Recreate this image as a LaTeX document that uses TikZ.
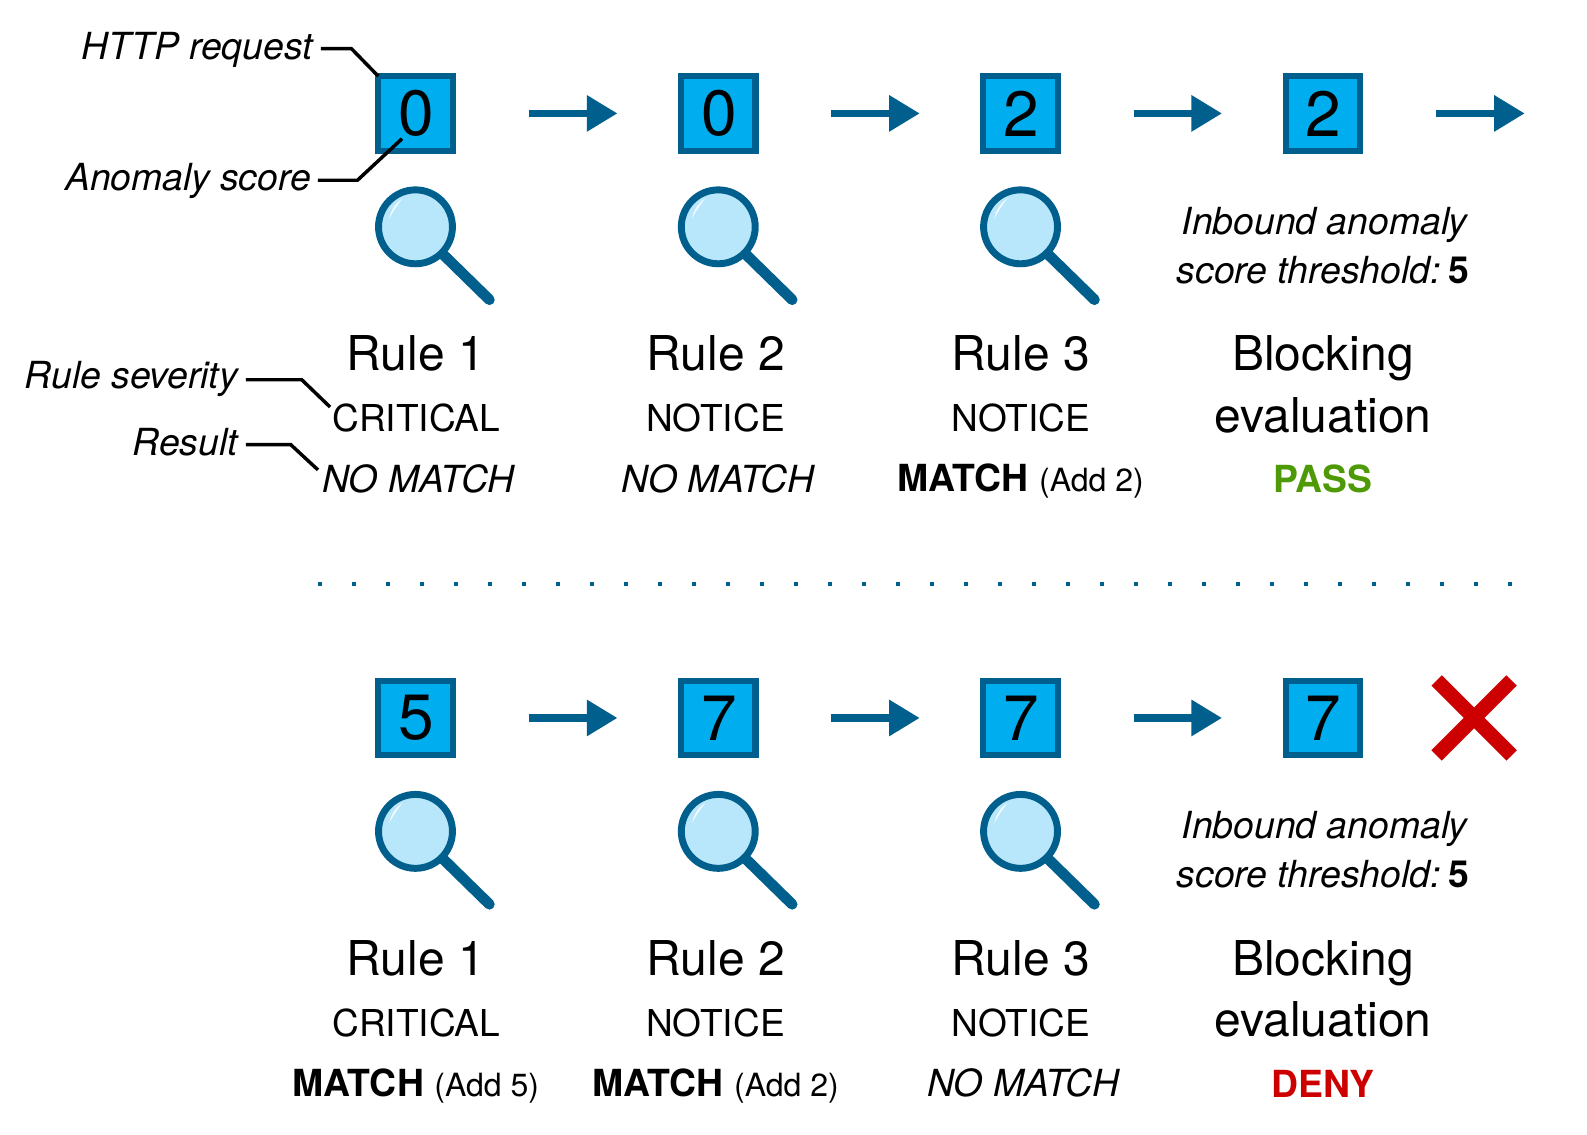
\documentclass[tikz,border=0pt]{standalone}
\usepackage{fontspec}
\setmainfont{TeX Gyre Heros}
\usetikzlibrary{arrows.meta}
\definecolor{dkblue}{HTML}{005F8C}
\definecolor{fillblue}{HTML}{00AEEF}
\definecolor{lens}{HTML}{B8E6FA}
\definecolor{passgreen}{HTML}{4E9A06}
\definecolor{denyred}{HTML}{CC0000}
\newcommand{\addfont}{\fontsize{24}{24}\selectfont}
\newcommand{\dg}[1]{\hspace*{1.2pt}#1}
\tikzset{
  x=0.7595pt,y=-0.7595pt,
  scorebox/.style={draw=dkblue,line width=4.6pt,fill=fillblue,minimum size=55.8pt,inner sep=0pt,outer sep=0pt,font=\fontsize{48}{48}\selectfont,text=black},
  flow/.style={draw=dkblue,line width=5.5pt,-{Triangle[length=23pt,width=26pt]},shorten <=57pt,shorten >=47.7pt},
  leader/.style={draw=black,line width=2.6pt},
  txt/.style={anchor=base,inner sep=0pt,outer sep=0pt,align=center},
  title/.style={txt,font=\fontsize{36}{36}\selectfont},
  sev/.style={txt,font=\fontsize{27.8}{28}\selectfont},
  res/.style={txt,font=\fontsize{28}{28}\selectfont},
  note/.style={txt,font=\fontsize{28}{28}\selectfont\itshape},
  tag/.style={txt,anchor=base east,font=\fontsize{28}{28}\selectfont\itshape},
}
\newcommand{\glass}[2]{%
  \begin{scope}[shift={(#1,#2)}]
    \draw[dkblue,line width=8pt,line cap=round] (27,27) -- (73,72);
    \draw[dkblue,line width=5.2pt,fill=lens] (0,0) circle[radius=36.5];
    \fill[white!85!lens] (-26,-8) .. controls (-24,-17) and (-20,-23) .. (-13,-28) .. controls (-19,-20) and (-23,-14) .. (-26,-8) -- cycle;
  \end{scope}}
\newcommand{\thr}{score threshold:\hspace{6pt}\textup{\textbf{5}}}
\begin{document}
\begin{tikzpicture}
\useasboundingbox (0,0) rectangle (1567.2,1119.9);
% top row
\node[scorebox] (a1) at (410.3,112) {\dg{0}};
\node[scorebox] (a2) at (709.3,112) {\dg{0}};
\node[scorebox] (a3) at (1007.8,112) {\dg{2}};
\node[scorebox] (a4) at (1306.3,112) {\dg{2}};
\coordinate (a5) at (1551,112);
\draw[flow] (a1) -- (a2);
\draw[flow] (a2) -- (a3);
\draw[flow] (a3) -- (a4);
\draw[flow,shorten >=34.4pt] (a4) -- (a5);
\glass{410.3}{224}\glass{709.3}{224}\glass{1007.8}{224}
\node[note] (a4n1) at (1308,231.5) {Inbound anomaly};
\node[note] (a4n2) at (1306.7,279.5) {\thr};
\node[title] (at1) at (410.5,366) {Rule 1};
\node[title] (at2) at (706.8,366) {Rule 2};
\node[title] (at3) at (1008,366) {Rule 3};
\node[title] (at4) at (1306.5,366) {Blocking};
\node[title] (at4b) at (1306.5,426.7) {evaluation};
\node[sev] (as1) at (411,426.5) {CRITICAL};
\node[sev] (as2) at (706.5,426.5) {NOTICE};
\node[sev] (as3) at (1008,426.5) {NOTICE};
\node[res] (ar1) at (413,486) {\itshape NO MATCH};
\node[res] (ar2) at (709,486) {\itshape NO MATCH};
\node[res] (ar3) at (1008,485.6) {\textbf{MATCH} {\addfont (Add 2)}};
\node[res,text=passgreen] (ar4) at (1306.5,486.7) {\textbf{PASS}};
% labels
\node[tag] (lhttp) at (308.6,59) {HTTP request};
\node[tag] (lscore) at (307,188) {Anomaly score};
\node[tag] (lsev) at (235,384) {Rule severity};
\node[tag] (lres) at (235,450) {Result};
\coordinate (k1) at (347,48);
\coordinate (k2) at (353,178);
\coordinate (k3) at (298,375);
\coordinate (k4) at (287,439);
\coordinate (e2) at (397,137);
\coordinate (e3) at (326,402);
\coordinate (e4) at (314,464);
\draw[leader] ([xshift=6.3pt]lhttp.east |- k1) -- (k1) -- (a1.north west);
\draw[leader] ([xshift=5.2pt]lscore.east |- k2) -- (k2) -- (e2);
\draw[leader] ([xshift=6pt]lsev.east |- k3) -- (k3) -- (e3);
\draw[leader] ([xshift=6pt]lres.east |- k4) -- (k4) -- (e4);
% separator
\coordinate (d1) at (314,577);
\coordinate (d2) at (1497,577);
\draw[dkblue,line width=3pt,dash pattern=on 3pt off 22.5pt] (d1) -- (d2);
% bottom row
\node[scorebox] (b1) at (410.3,709) {\dg{5}};
\node[scorebox] (b2) at (709.3,709) {\dg{7}};
\node[scorebox] (b3) at (1007.8,709) {\dg{7}};
\node[scorebox] (b4) at (1306.3,709) {\dg{7}};
\draw[flow] (b1) -- (b2);
\draw[flow] (b2) -- (b3);
\draw[flow] (b3) -- (b4);
\coordinate (x1) at (1418.7,672);
\coordinate (x2) at (1492.7,746);
\coordinate (x3) at (1492.7,672);
\coordinate (x4) at (1418.7,746);
\draw[denyred,line width=11pt] (x1) -- (x2) (x3) -- (x4);
\glass{410.3}{821}\glass{709.3}{821}\glass{1007.8}{821}
\node[note] (b4n1) at (1308,828.5) {Inbound anomaly};
\node[note] (b4n2) at (1306.7,876.5) {\thr};
\node[title] (bt1) at (410.5,963) {Rule 1};
\node[title] (bt2) at (706.8,963) {Rule 2};
\node[title] (bt3) at (1008,963) {Rule 3};
\node[title] (bt4) at (1306.5,963) {Blocking};
\node[title] (bt4b) at (1306.5,1023.7) {evaluation};
\node[sev] (bs1) at (411,1023.7) {CRITICAL};
\node[sev] (bs2) at (706.5,1023.7) {NOTICE};
\node[sev] (bs3) at (1008,1023.7) {NOTICE};
\node[res] (br1) at (410.7,1083) {\textbf{MATCH} {\addfont (Add 5)}};
\node[res] (br2) at (706.7,1083) {\textbf{MATCH} {\addfont (Add 2)}};
\node[res] (br3) at (1010.3,1083) {\itshape NO MATCH};
\node[res,text=denyred] (br4) at (1306.5,1083.7) {\textbf{DENY}};
\end{tikzpicture}
\end{document}
